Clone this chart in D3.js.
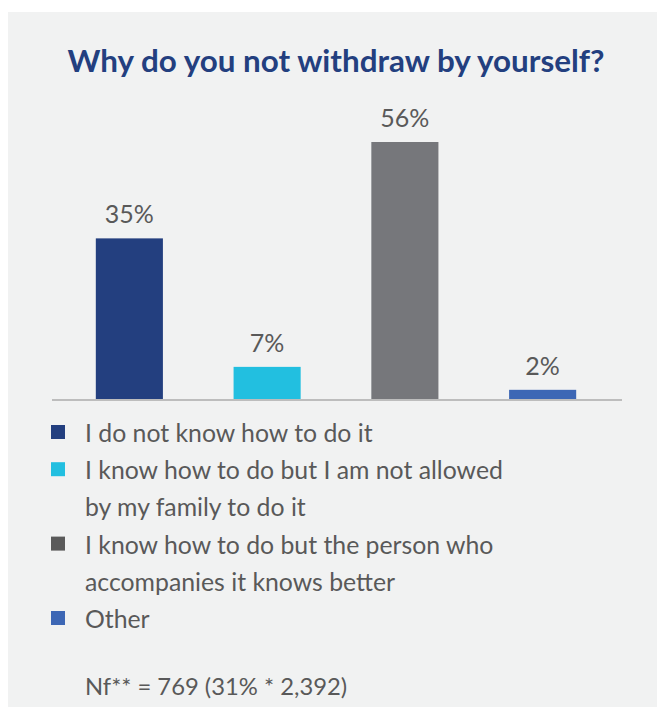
<!DOCTYPE html>
<html>
<head>
<meta charset="utf-8">
<script src="https://cdn.jsdelivr.net/npm/d3@7"></script>
<style>
  body { margin: 0; background: #fff; }
  svg { display: block; }
</style>
</head>
<body>
<div id="chart"></div>
<script>
// chart values
const categories = ["I do not know how to do it",
    "I know how to do but I am not allowed by my family to do it",
    "I know how to do but the person who accompanies it knows better",
    "Other"];
const values = [35, 7, 56, 2];
const legendLines = [
    ["I do not know how to do it"],
    ["I know how to do but I am not allowed", "by my family to do it"],
    ["I know how to do but the person who", "accompanies it knows better"],
    ["Other"]
];
const barColors = ["#233f7f", "#22bfe0", "#76777b", "#3d67b5"];
const legendColors = ["#233f7f", "#22bfe0", "#5a5a5a", "#3d67b5"];
const title = "Why do you not withdraw by yourself?";
const footnote = "Nf** = 769 (31% * 2,392)";

const W = 657, H = 707;
const font = "Lato, 'Noto Sans', sans-serif";

const svg = d3.select("#chart").append("svg")
    .attr("width", W)
    .attr("height", H);

// panel
svg.append("rect")
    .attr("x", 8).attr("y", 12)
    .attr("width", W - 8).attr("height", H - 12)
    .attr("fill", "#f1f2f2");

svg.append("text")
    .attr("x", 336).attr("y", 72)
    .attr("text-anchor", "middle")
    .attr("font-family", font)
    .attr("font-weight", "bold")
    .attr("font-size", "31.4px")
    .attr("fill", "#233f7f")
    .text(title);

const x = d3.scaleBand()
    .domain(categories)
    .range([60, 612])
    .paddingInner(0.513)
    .paddingOuter(0.26);

const y = d3.scaleLinear()
    .domain([0, 56])
    .range([399, 142]);

svg.selectAll(".bar")
    .data(values)
    .enter().append("rect")
    .attr("class", "bar")
    .attr("x", (d, i) => x(categories[i]))
    .attr("y", d => y(d))
    .attr("width", x.bandwidth())
    .attr("height", d => y(0) - y(d))
    .attr("fill", (d, i) => barColors[i]);

svg.selectAll(".val")
    .data(values)
    .enter().append("text")
    .attr("class", "val")
    .attr("x", (d, i) => x(categories[i]) + x.bandwidth() / 2)
    .attr("y", d => y(d) - 15)
    .attr("text-anchor", "middle")
    .attr("font-family", font)
    .attr("font-size", "25px")
    .attr("fill", "#595959")
    .text(d => d + "%");

// baseline
svg.append("line")
    .attr("x1", 52).attr("x2", 622)
    .attr("y1", 400).attr("y2", 400)
    .attr("stroke", "#bdbdbd")
    .attr("stroke-width", 2);

// legend
const lineH = 37.2;
let row = 0;
legendLines.forEach((lines, i) => {
    const baseY = 442 + row * lineH;
    svg.append("rect")
        .attr("x", 51).attr("y", baseY - 17)
        .attr("width", 14).attr("height", 14)
        .attr("fill", legendColors[i]);
    lines.forEach((ln, j) => {
        svg.append("text")
            .attr("x", 85).attr("y", baseY + j * lineH)
            .attr("font-family", font)
            .attr("font-size", "24.8px")
            .attr("fill", "#595959")
            .text(ln);
    });
    row += lines.length;
});

svg.append("text")
    .attr("x", 85).attr("y", 695)
    .attr("font-family", font)
    .attr("font-size", "23.8px")
    .attr("fill", "#595959")
    .text(footnote);
</script>
</body>
</html>
